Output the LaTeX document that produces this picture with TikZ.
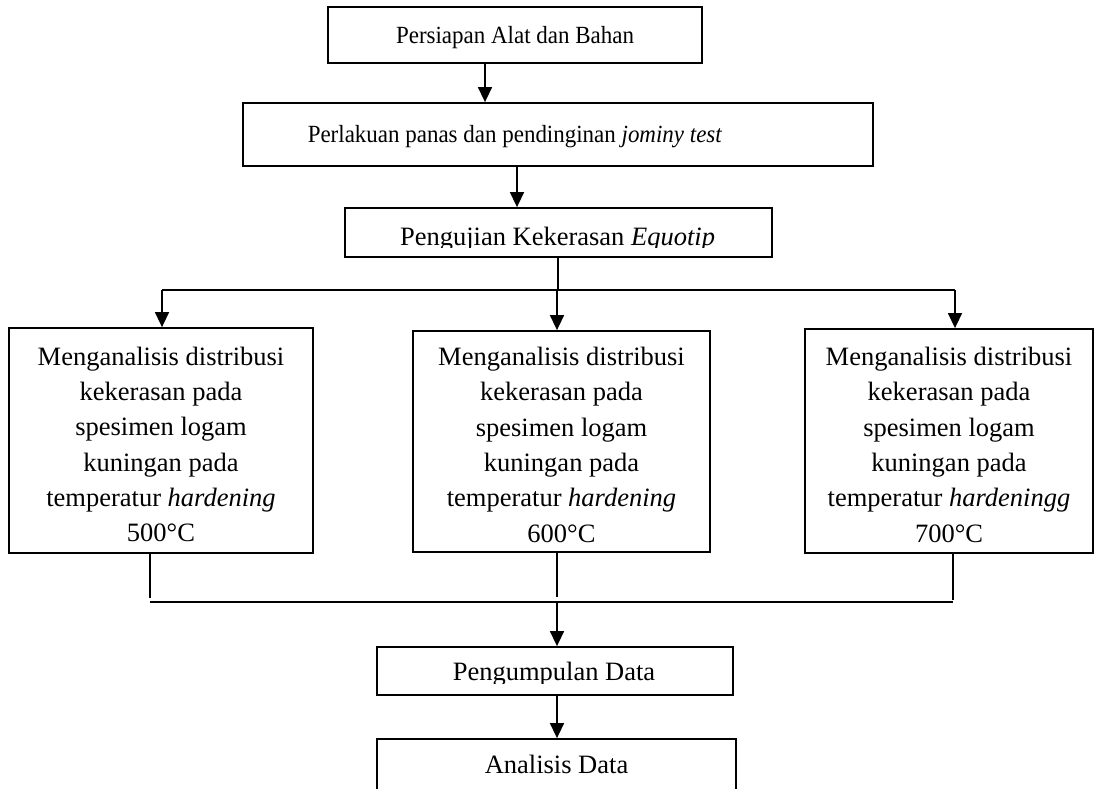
\documentclass[tikz,border=0pt]{standalone}
\usepackage{fontspec}
\setmainfont{Liberation Serif}
\newfontfamily\narrowserif[FakeStretch=0.93]{Liberation Serif}
\usetikzlibrary{arrows.meta,calc}
\tikzset{
  box/.style={draw=black, line width=1.8pt, inner sep=0pt},
  big/.style={font=\fontsize{26.5pt}{35.3pt}\selectfont},
  small/.style={font=\narrowserif\fontsize{24.7pt}{33pt}\selectfont},
  multi/.style={box, big, align=center},
  conn/.style={line width=1.5pt},
  arr/.style={line width=1.5pt, -{Triangle[length=15pt,width=14pt]}},
}
\begin{document}
\begin{tikzpicture}[x=1pt,y=-1pt]
\useasboundingbox (0,0) rectangle (1094,788);
\clip (0,0) rectangle (1094,788);
\fill[white] (0,0) rectangle (1094,788);

% top chain
\node[box, small, minimum width=374pt, minimum height=56pt, text height=16pt, text depth=0pt] (b1) at (515,35) {Persiapan Alat dan Bahan};
\node[box, small, minimum width=630pt, minimum height=63pt, text height=15pt, text depth=0pt] (b2) at (558,134.5) {Perlakuan panas dan pendinginan \textit{jominy test}\rule{86pt}{0pt}};
\node[box, minimum width=427pt, minimum height=49pt] (b3) at (558.5,232.5) {};
\begin{scope}
  \clip (b3.north west) rectangle ($(b3.south east)+(0,-10)$);
  \node[big, anchor=base, inner sep=0pt] (b3t) at (557.5,245) {Pengujian Kekerasan \textit{Equotip}};
\end{scope}

% three analysis boxes
\node[multi, minimum width=304pt, minimum height=225pt] (c1) at (161,440.5)
  {\rule{0pt}{26pt}Menganalisis distribusi\\kekerasan pada\\spesimen logam\\kuningan pada\\temperatur \textit{hardening}\\500°C};
\node[multi, minimum width=297pt, minimum height=221pt] (c2) at (561.5,441.5)
  {\rule{0pt}{25pt}Menganalisis distribusi\\kekerasan pada\\spesimen logam\\kuningan pada\\temperatur \textit{hardening}\\600°C};
\node[multi, minimum width=288pt, minimum height=224pt] (c3) at (949,441)
  {\rule{0pt}{26pt}Menganalisis distribusi\\kekerasan pada\\spesimen logam\\kuningan pada\\temperatur \textit{hardeningg}\\700°C};

% bottom chain
\node[box, minimum width=356pt, minimum height=48pt] (d1) at (555,671) {};
\begin{scope}
  \clip (d1.north west) rectangle ($(d1.south east)+(0,-12)$);
  \node[big, anchor=base, inner sep=0pt] (d1t) at (554,680.5) {Pengumpulan Data};
\end{scope}
\node[box, big, minimum width=359pt, minimum height=51pt, text height=17pt, text depth=0pt] (d2) at (556.5,764.5) {Analisis Data};

% connectors
\coordinate (a1) at (485,85);
\coordinate (a2) at (517,185);
\draw[arr] (b1.south -| a1) -- (b2.north -| a1);
\draw[arr] (b2.south -| a2) -- (b3.north -| a2);

\coordinate (jt) at (558,290);
\coordinate (jl) at (162,290);
\coordinate (jm) at (557,290);
\coordinate (jr) at (955,290);
\draw[conn] (b3.south -| jt) -- (jt);
\draw[conn] (jl) -- (jr);
\draw[arr] (jl) -- (c1.north -| jl);
\draw[arr] (jm) -- (c2.north -| jm);
\draw[arr] (jr) -- (c3.north -| jr);

\coordinate (k1) at (150,602);
\coordinate (k2) at (557,602);
\coordinate (k3) at (953,602);
\draw[conn] (c1.south -| k1) -- ($(k1)+(0,-4)$);
\draw[conn] (c2.south -| k2) -- ($(k2)+(0,-5)$);
\draw[conn] (c3.south -| k3) -- ($(k3)+(0,-2)$);
\draw[conn] (k1) -- (k3);
\draw[arr] (k2) -- (d1.north -| k2);
\draw[arr] (d1.south -| k2) -- (d2.north -| k2);
\end{tikzpicture}
\end{document}
